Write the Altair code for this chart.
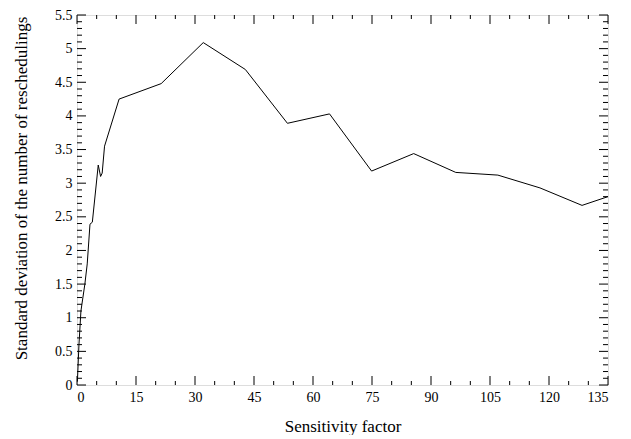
import altair as alt
import pandas as pd

# Line data
sens = [0.1, 0.5, 1.0, 2.0, 2.6, 3.3, 3.9, 5.4, 6.0, 6.4, 7.0, 10.7, 21.4, 32.1,
        42.8, 53.5, 64.2, 74.9, 85.6, 96.3, 107.0, 117.7, 128.4, 135.0]
sdev = [0.05, 0.6, 1.1, 1.5, 1.8, 2.39, 2.42, 3.27, 3.1, 3.15, 3.55, 4.25, 4.48, 5.09,
        4.69, 3.89, 4.03, 3.18, 3.44, 3.16, 3.12, 2.93, 2.67, 2.80]

# Tick values
x_major = [0, 15, 30, 45, 60, 75, 90, 105, 120, 135]
x_minor = [v for v in range(5, 135, 5) if v % 15 != 0]
y_major = [0, 0.5, 1, 1.5, 2, 2.5, 3, 3.5, 4, 4.5, 5, 5.5]
y_minor = [round(i / 10, 1) for i in range(1, 55) if i % 5 != 0]

W, H = 531, 370
FONT = "Liberation Serif"

line_df = pd.DataFrame({"x": sens, "y": sdev})
xs = alt.Scale(domain=[0, 135], nice=False, zero=False)
ys = alt.Scale(domain=[0, 5.5], nice=False, zero=False)
common = dict(grid=False, ticks=False, domain=False, labelFont=FONT, titleFont=FONT,
              labelFontSize=14, titleFontSize=17, labelColor="black",
              titleColor="black", titleFontWeight="normal")
x_axis = alt.Axis(values=x_major, title="Sensitivity factor", labelPadding=5,
                  titlePadding=14, **common)
y_axis = alt.Axis(values=y_major, title="Standard deviation of the number of reschedulings",
                  labelPadding=5, format="~g", titlePadding=24, titleY=173, **common)

def X():
    return alt.X("x:Q", scale=xs, axis=x_axis)

def Y():
    return alt.Y("y:Q", scale=ys, axis=y_axis)

line = alt.Chart(line_df).mark_line(color="black", strokeWidth=1).encode(x=X(), y=Y())

def xticks(vals, length):
    df = pd.DataFrame({"x": vals})
    bottom = alt.Chart(df).mark_rule(color="black", strokeWidth=1).encode(
        x=X(), y=alt.value(H), y2=alt.value(H - length))
    top = alt.Chart(df).mark_rule(color="black", strokeWidth=1).encode(
        x=X(), y=alt.value(0), y2=alt.value(length))
    return [bottom, top]

def yticks(vals, length):
    df = pd.DataFrame({"y": vals})
    left = alt.Chart(df).mark_rule(color="black", strokeWidth=1).encode(
        y=Y(), x=alt.value(0), x2=alt.value(length))
    right = alt.Chart(df).mark_rule(color="black", strokeWidth=1).encode(
        y=Y(), x=alt.value(W), x2=alt.value(W - length))
    return [left, right]

layers = [line] + xticks(x_major, 9) + xticks(x_minor, 4) + yticks(y_major, 9) + yticks(y_minor, 5)

chart = alt.layer(*layers).properties(
    width=W, height=H,
    autosize=alt.AutoSizeParams(type="none"),
    padding={"left": 69, "top": 7, "right": 10, "bottom": 50},
).configure_view(stroke="black", strokeWidth=1).configure(background="white")

chart.save("out.html", embed_options={"renderer": "svg", "actions": False})
